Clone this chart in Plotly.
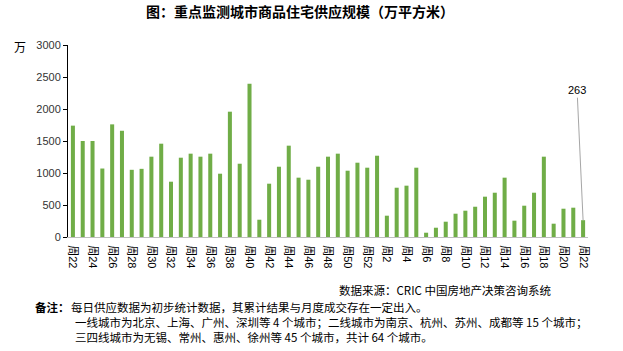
import plotly.graph_objects as go

# ---- data ----
weeks_2014 = list(range(22, 53))
weeks_2015 = list(range(1, 23))
categories = [f"2014-{w}" for w in weeks_2014] + [f"2015-{w}" for w in weeks_2015]
week_labels = [f"周{w}" for w in weeks_2014] + [f"周{w}" for w in weeks_2015]
supply = [1740, 1500, 1500, 1070, 1760, 1660, 1050, 1065, 1255, 1458,
          864, 1239, 1302, 1255, 1302, 989, 1958, 1145, 2395, 270,
          833, 1098, 1427, 927, 895, 1098, 1255, 1302, 1036, 1161,
          1083,
          1270, 333, 770, 802, 1083, 67, 145, 239, 364, 411,
          473, 630, 692, 927, 255, 489, 692, 1255, 208, 442,
          458, 263]
y_ticks = [0, 500, 1000, 1500, 2000, 2500, 3000]

title_text = "图：重点监测城市商品住宅供应规模（万平方米）"
unit_text = "万"
source_text = "数据来源：CRIC 中国房地产决策咨询系统"
note_head = "备注："
note_lines = ["每日供应数据为初步统计数据，其累计结果与月度成交存在一定出入。",
              "一线城市为北京、上海、广州、深圳等 4 个城市；二线城市为南京、杭州、苏州、成都等 15 个城市；",
              "三四线城市为无锡、常州、惠州、徐州等 45 个城市，共计 64 个城市。"]

# ---- layout geometry ----
W, H = 623, 351
L, R, T, B = 68, 35, 45, 114
PW, PH = W - L - R, H - T - B

def px(x):
    return (x - L) / PW

def py(y):
    return (H - B - y) / PH

CJK = "Noto Sans CJK SC"
NUM = "Liberation Sans, Noto Sans CJK SC"

fig = go.Figure()
fig.add_trace(go.Bar(x=categories, y=supply, marker_color="#70AD47",
                     marker_line_width=0, hoverinfo="x+y"))

fig.update_layout(
    width=W, height=H,
    margin=dict(l=L, r=R, t=T, b=B),
    paper_bgcolor="white", plot_bgcolor="white",
    showlegend=False,
    bargap=0.59,
    title=dict(text=f"<b>{title_text}</b>", x=300 / W, xanchor="center",
               y=1 - 12 / H, yanchor="middle",
               font=dict(family=CJK, size=14, color="#000")),
    xaxis=dict(type="category", categoryorder="array", categoryarray=categories,
               range=[-0.5, len(categories) - 0.5],
               tickmode="array", tickvals=categories[::2], ticktext=week_labels[::2],
               tickangle=90, ticks="", ticklabelstandoff=5,
               showline=True, linecolor="#bfbfbf",
               linewidth=1, showgrid=False, zeroline=False,
               tickfont=dict(family=NUM, size=11, color="#000")),
    yaxis=dict(range=[0, 3000], tickmode="array", tickvals=y_ticks,
               ticks="outside", ticklen=4, tickcolor="#000",
               showline=True, linecolor="#000", linewidth=1,
               showgrid=False, zeroline=False,
               tickfont=dict(family=NUM, size=11, color="#333")),
)

ann = []
ann.append(dict(text=unit_text, x=px(20), y=py(47), xref="paper", yref="paper",
                showarrow=False, xanchor="center", yanchor="middle",
                font=dict(family=CJK, size=12, color="#000")))
ann.append(dict(text=source_text, x=px(337), y=py(290), xref="paper", yref="paper",
                showarrow=False, xanchor="left", yanchor="middle",
                font=dict(family=CJK, size=11.5, color="#000")))
ann.append(dict(text=f"<b>{note_head}</b>", x=px(33), y=py(307), xref="paper", yref="paper",
                showarrow=False, xanchor="left", yanchor="middle",
                font=dict(family=CJK, size=11.5, color="#000")))
for i, (line, xx) in enumerate(zip(note_lines, [69, 73, 73])):
    ann.append(dict(text=line, x=px(xx), y=py(307 + 15 * i), xref="paper", yref="paper",
                    showarrow=False, xanchor="left", yanchor="middle",
                    font=dict(family=CJK, size=11.5, color="#000")))
ann.append(dict(text=str(supply[-1]), x=categories[-1], y=supply[-1],
                xref="x", yref="y", showarrow=True, arrowhead=0, arrowwidth=1,
                arrowcolor="#a6a6a6", ax=-6, ay=-130,
                font=dict(family=NUM, size=11, color="#000")))
fig.update_layout(annotations=ann)

fig.write_html("out.html")
